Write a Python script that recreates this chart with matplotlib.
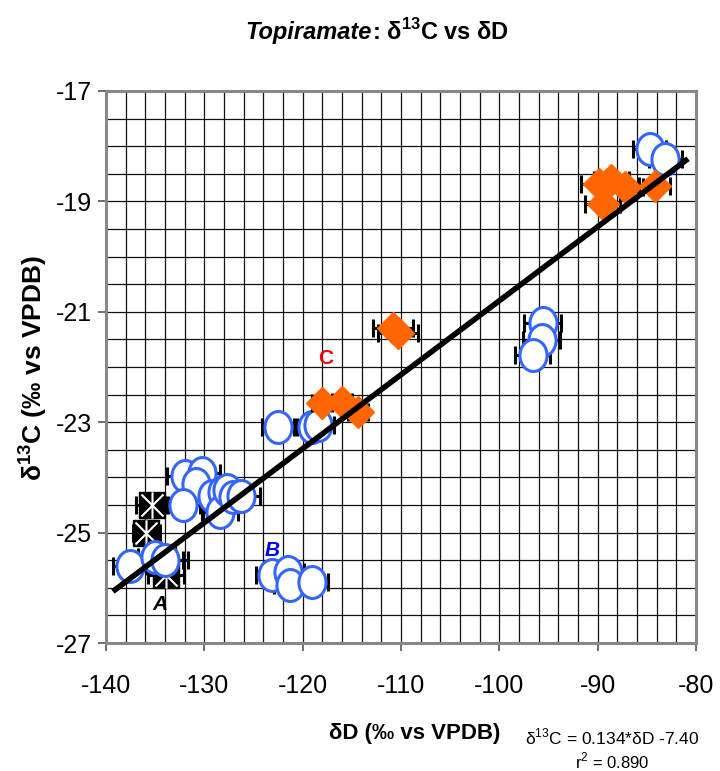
import numpy as np
import matplotlib
matplotlib.use('Agg')
import matplotlib.pyplot as plt
from matplotlib.markers import MarkerStyle
from matplotlib.transforms import Affine2D
from matplotlib.path import Path

plt.rcParams['font.family'] = ['Liberation Sans', 'DejaVu Sans']
plt.rcParams['mathtext.fontset'] = 'custom'
plt.rcParams['mathtext.rm'] = 'Liberation Sans'
plt.rcParams['mathtext.bf'] = 'Liberation Sans:bold'
plt.rcParams['axes.unicode_minus'] = False

# Data (dD, d13C, x error)
circle_dD = [-84.7, -83.1, -95.6, -95.7, -96.6, -122.5, -119.0, -118.4,
             -132.0, -130.2, -130.8, -132.2, -129.2, -128.2, -128.4, -127.7,
             -127.1, -126.3, -137.6, -135.0, -134.0, -123.1, -121.5, -121.3, -119.0]
circle_d13C = [-18.05, -18.23, -21.20, -21.51, -21.78, -23.09, -23.09, -23.05,
               -23.97, -23.92, -24.12, -24.50, -24.34, -24.26, -24.63, -24.22,
               -24.36, -24.34, -25.61, -25.44, -25.50, -25.77, -25.71, -25.95, -25.89]
circle_err = [1.7, 1.7, 1.9, 1.9, 1.8, 1.6, 1.6, 1.6,
              1.8, 1.8, 1.8, 1.8, 1.8, 1.8, 1.8, 1.8,
              1.8, 2.0, 1.7, 1.7, 2.3, 1.6, 1.6, 1.6, 1.6]

diamond_dD = [-89.9, -89.5, -88.6, -87.2, -84.2, -110.8, -110.3, -118.0, -116.0, -114.4]
diamond_d13C = [-18.68, -19.05, -18.62, -18.74, -18.72, -21.29, -21.38, -22.65, -22.63, -22.82]
diamond_err = [1.8, 1.8, 1.8, 1.8, 1.6, 2.0, 2.0, 1.0, 1.0, 1.0]

star_dD = [-135.3, -135.9, -134.2, -133.9]
star_d13C = [-24.50, -25.01, -25.50, -25.77]
star_err = [1.6, 1.4, 2.0, 1.8]

# regression line
slope, intercept = 0.134, -7.40
line_dD = np.array([-139.3, -80.8])

fig = plt.figure(figsize=(7.2, 7.71), dpi=100)
ax = fig.add_axes([0.1472, 0.166, 0.8194, 0.716])

ax.set_xlim(-140, -80)
ax.set_ylim(-27, -17)
ax.set_xticks(np.arange(-140, -79, 10))
ax.set_yticks(np.arange(-27, -16, 2))
ax.set_xticks(np.arange(-140, -79, 2), minor=True)
ax.set_yticks(np.arange(-27, -16.9, 0.5), minor=True)
ax.grid(which='both', color='#111111', lw=0.9)
ax.set_axisbelow(True)
ax.tick_params(which='minor', length=0)
ax.tick_params(which='major', length=6, width=1.2, color='#555555',
               labelsize=18, direction='out')
ax.tick_params(axis='x', pad=16)
ax.tick_params(axis='y', pad=4)
for s in ax.spines.values():
    s.set_color('#888888')
    s.set_linewidth(2.2)

eb = dict(fmt='none', ecolor='black', elinewidth=2.2, capsize=6.5, capthick=2.2)

# stars (black background + white asterisk)
ax.errorbar(star_dD, star_d13C, xerr=star_err, zorder=2, **eb)
ax.plot(star_dD, star_d13C, 's', ms=19, color='black', zorder=3)
star_path = Path([(-1, -1), (1, 1), (-1, 1), (1, -1), (0, -1.2), (0, 1.2)],
                 [Path.MOVETO, Path.LINETO, Path.MOVETO, Path.LINETO, Path.MOVETO, Path.LINETO])
ax.plot(star_dD, star_d13C, linestyle='none', marker=star_path, ms=19,
        mec='white', mew=1.5, zorder=3)

# circles
ax.errorbar(circle_dD, circle_d13C, xerr=circle_err, zorder=4, **eb)
ell = MarkerStyle('o', transform=Affine2D().scale(0.85, 1.0))
ax.plot(circle_dD, circle_d13C, linestyle='none', marker=ell, ms=23,
        mfc='white', mec='#3366FF', mew=2.2, zorder=5)

# diamonds
ax.errorbar(diamond_dD, diamond_d13C, xerr=diamond_err, zorder=6, **eb)
ax.plot(diamond_dD, diamond_d13C, linestyle='none', marker='D', ms=16.5,
        color='#FF6600', mec='#FF6600', zorder=7)

# regression line on top
ax.plot(line_dD, slope * line_dD + intercept, color='black', lw=4, zorder=9,
        solid_capstyle='butt')

ax.text(-134.5, -26.31, 'A', color='black', fontsize=15, fontweight='bold',
        style='italic', ha='center', va='center', zorder=10)
ax.text(-123.1, -25.33, 'B', color='#0000EE', fontsize=15, fontweight='bold',
        style='italic', ha='center', va='center', zorder=10)
ax.text(-117.7, -21.84, 'C', color='#EE0000', fontsize=15, fontweight='bold',
        ha='center', va='center', zorder=10)

fig.text(372 / 720, 1 - 32 / 771, 'Topiramate', fontsize=17, fontweight='bold',
         style='italic', ha='right', va='center')
fig.text(372 / 720, 1 - 32 / 771, r': δ$^{\mathbf{13}}$C vs δD', fontsize=17,
         fontweight='bold', ha='left', va='center')

fig.text(33 / 720, 1 - 368 / 771, r'δ$^{\mathbf{13}}$C (‰ vs VPDB)', fontsize=19,
         fontweight='bold', rotation=90, ha='center', va='center')
fig.text(415 / 720, 1 - 733 / 771, 'δD (‰ vs VPDB)', fontsize=16,
         fontweight='bold', ha='center', va='center')

fig.text(612 / 720, 1 - 737 / 771, r'δ$^{13}$C = 0.134*δD -7.40', fontsize=12.5,
         ha='center', va='center')
fig.text(612 / 720, 1 - 761 / 771, r'r$^{2}$ = 0.890', fontsize=12,
         ha='center', va='center')

fig.savefig('out.png', dpi=100)
